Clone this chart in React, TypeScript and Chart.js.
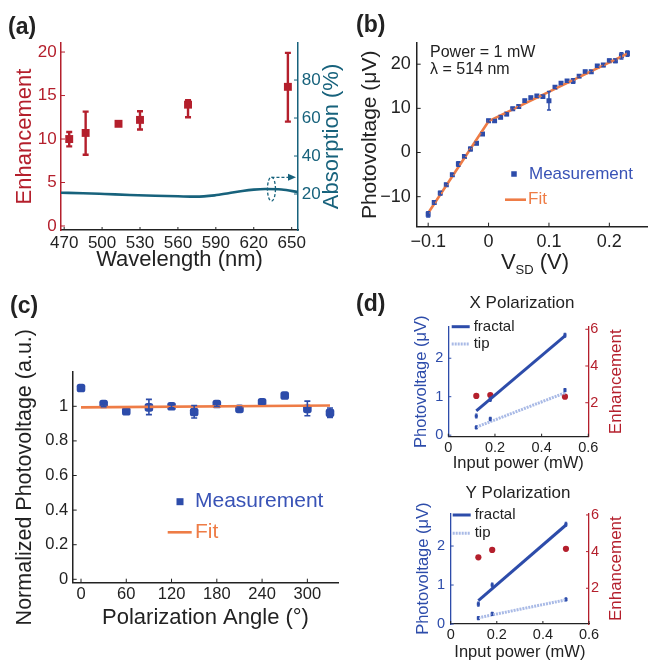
import React, { useEffect, useRef } from 'react';
import { Chart, registerables } from 'chart.js';
Chart.register(...registerables);

const W = 648;
const H = 660;
const FF = '"Liberation Sans", Arial, Helvetica, sans-serif';

const RED = '#b41f2c';
const TEAL = '#17627c';
const BLUE = '#2d4caa';
const BLUE_TXT = '#3953b6';
const ORANGE = '#ee7c46';
const TIP = '#a9bae6';
const INK = '#222222';

// ---------- (a) ----------
const wavelengthNm = [474, 487, 513, 530, 568, 647];
const enhancementA = [10.0, 10.7, 11.75, 12.2, 13.95, 16.0];
const enhancementLow = [9.15, 8.2, 11.55, 11.1, 12.5, 12.0];
const enhancementHigh = [10.8, 13.15, 11.95, 13.2, 14.45, 19.9];
const absorptionWl = [467.5, 485, 502, 522, 542, 560, 574, 589, 600, 611, 620, 629, 642, 655];
const absorptionPct = [20.7, 20.4, 20.0, 19.5, 19.1, 18.8, 18.6, 19.3, 20.4, 21.6, 22.3, 22.6, 22.4, 21.0];
const xTicksA = [470, 500, 530, 560, 590, 620, 650];
const yTicksA = [0, 5, 10, 15, 20];
const y2TicksA = [20, 40, 60, 80];

// ---------- (b) ----------
const vsdV = [-0.1, -0.09, -0.08, -0.07, -0.06, -0.05, -0.04, -0.03, -0.02, -0.01, 0, 0.01, 0.02, 0.03, 0.04, 0.05, 0.06,
  0.07, 0.08, 0.09, 0.1, 0.11, 0.12, 0.13, 0.14, 0.15, 0.16, 0.17, 0.18, 0.19, 0.2, 0.21, 0.22, 0.23];
const photoVoltage = [-14.0, -11.3, -9.2, -7.3, -5.05, -2.6, -0.9, 0.8, 2.1, 4.2, 7.2, 7.2, 8.0, 8.7, 9.9, 10.4, 11.7,
  12.4, 12.8, 12.7, 11.7, 14.8, 15.7, 16.2, 16.2, 17.3, 18.3, 18.3, 19.6, 19.8, 20.8, 20.8, 21.9, 22.4];
const photoVoltageErr = [0.6, 0.4, 0.4, 0.3, 0.3, 0.5, 0.3, 0.4, 0.3, 0.3, 0.3, 0.3, 0.3, 0.3, 0.3, 0.3, 0.3,
  0.3, 0.3, 0.3, 2.1, 0.3, 0.3, 0.3, 0.5, 0.3, 0.3, 0.3, 0.3, 0.3, 0.3, 0.4, 0.7, 0.6];
const fitVsd = [-0.1, 0, 0.23];
const fitPhotoVoltage = [-13.7, 7.1, 22.4];
const xTicksB = [-0.1, 0, 0.1, 0.2];
const yTicksB = [-10, 0, 10, 20];

// ---------- (c) ----------
const angleDeg = [0, 30, 60, 90, 120, 150, 180, 210, 240, 270, 300, 330];
const normPhotoV = [1.106, 1.013, 0.971, 0.994, 1.0, 0.967, 1.013, 0.985, 1.023, 1.062, 0.985, 0.962];
const normLow = [1.094, 0.998, 0.961, 0.952, 0.992, 0.932, 1.0, 0.974, 1.012, 1.052, 0.945, 0.935];
const normHigh = [1.118, 1.027, 0.981, 1.04, 1.008, 1.005, 1.027, 0.996, 1.034, 1.072, 1.03, 0.99];
const fitAngle = [0, 330];
const fitNorm = [0.994, 1.005];
const xTicksC = [0, 60, 120, 180, 240, 300];
const yTicksC = [0, 0.2, 0.4, 0.6, 0.8, 1];

// ---------- (d) ----------
const inputPowerMw = [0.12, 0.18, 0.5];
const fitPowerMw = [0.12, 0.5];
const xFractal = [0.5, 0.93, 2.6];
const xTip = [0.2, 0.42, 1.17];
const xFractalFit = [0.63, 2.58];
const xTipFit = [0.21, 1.1];
const xEnhancement = [2.37, 2.42, 2.33];
const yFractal = [0.51, 1.0, 2.56];
const yTip = [0.15, 0.26, 0.63];
const yFractalFit = [0.6, 2.54];
const yTipFit = [0.16, 0.62];
const yEnhancement = [3.69, 4.09, 4.15];
const xTicksD = [0, 0.2, 0.4, 0.6];
const yTicksD = [0, 1, 2];
const y2TicksD = [2, 4, 6];

// ---------- helpers ----------
const LH = 0.8;
type Area = { l: number; t: number; r: number; b: number };
function frame(a: Area, yTitleCx: number, yFs: number, xTitleCy: number, xFs: number, rightW: number) {
  const padL = yTitleCx - (LH * yFs) / 2;
  const padB = H - xTitleCy - (LH * xFs) / 2;
  return {
    padding: { left: padL, top: a.t, right: W - a.r - rightW, bottom: padB },
    yWidth: a.l - padL,
    xHeight: H - padB - a.b,
    rightW,
  };
}

const fmtMinus = (v: number) => (v < 0 ? '\u2212' + String(Math.abs(v)) : String(v));

function axis(o: {
  pos: string; min: number; max: number; ticks: number[]; color: string; tickColor: string; fs: number; pad: number;
  size: number; title?: string; titleFs?: number; titleColor?: string; fmt?: (v: number) => string; bw?: number;
}) {
  const horiz = o.pos === 'bottom' || o.pos === 'top';
  return {
    type: 'linear',
    position: o.pos,
    min: o.min,
    max: o.max,
    afterBuildTicks: (s: any) => { s.ticks = o.ticks.map((v) => ({ value: v })); },
    afterFit: (s: any) => { if (horiz) s.height = o.size; else s.width = o.size; },
    grid: { display: true, drawOnChartArea: false, drawTicks: false },
    border: { display: true, color: o.color, width: o.bw ?? 1.5 },
    ticks: {
      color: o.tickColor,
      font: { family: FF, size: o.fs },
      padding: o.pad,
      autoSkip: false,
      maxRotation: 0,
      callback: (v: any) => (o.fmt ? o.fmt(Number(v)) : String(v)),
    },
    title: {
      display: !!o.title,
      text: o.title || '',
      color: o.titleColor || INK,
      font: { family: FF, size: o.titleFs || 16, lineHeight: LH },
      padding: 0,
    },
  };
}

type ErrSpec = { ds: number; axis: string; low: number[]; high: number[]; color: string; cap: number; width: number };
const errorBars = (specs: ErrSpec[]) => ({
  id: 'errorBars',
  afterDatasetsDraw(chart: any) {
    const ctx = chart.ctx;
    ctx.save();
    for (const s of specs) {
      const meta = chart.getDatasetMeta(s.ds);
      const sc = chart.scales[s.axis];
      meta.data.forEach((pt: any, i: number) => {
        const x = pt.x;
        const y1 = sc.getPixelForValue(s.low[i]);
        const y2 = sc.getPixelForValue(s.high[i]);
        ctx.strokeStyle = s.color;
        ctx.lineWidth = s.width;
        ctx.beginPath();
        ctx.moveTo(x, y1); ctx.lineTo(x, y2);
        ctx.moveTo(x - s.cap, y1); ctx.lineTo(x + s.cap, y1);
        ctx.moveTo(x - s.cap, y2); ctx.lineTo(x + s.cap, y2);
        ctx.stroke();
      });
    }
    ctx.restore();
  },
});

type TickSpec = { id: string; color: string; len: number };
const innerTicks = (specs: TickSpec[]) => ({
  id: 'innerTicks',
  afterDraw(chart: any) {
    const { ctx, chartArea: a } = chart;
    ctx.save();
    for (const t of specs) {
      const sc = chart.scales[t.id];
      ctx.strokeStyle = t.color;
      ctx.lineWidth = 1;
      ctx.beginPath();
      for (const tk of sc.ticks) {
        const p = sc.getPixelForValue(tk.value);
        if (sc.isHorizontal()) { ctx.moveTo(p, a.bottom); ctx.lineTo(p, a.bottom - t.len); }
        else if (sc.options.position === 'left') { ctx.moveTo(a.left, p); ctx.lineTo(a.left + t.len, p); }
        else { ctx.moveTo(a.right, p); ctx.lineTo(a.right - t.len, p); }
      }
      ctx.stroke();
    }
    ctx.restore();
  },
});

type TextItem = { text: string; x: number; y: number; size: number; color: string; bold?: boolean; align?: CanvasTextAlign; rot?: number };
const texts = (items: TextItem[]) => ({
  id: 'texts',
  afterDraw(chart: any) {
    const ctx = chart.ctx;
    for (const it of items) {
      ctx.save();
      ctx.translate(it.x, it.y);
      if (it.rot) ctx.rotate(it.rot);
      ctx.font = `${it.bold ? 'bold ' : ''}${it.size}px ${FF}`;
      ctx.fillStyle = it.color;
      ctx.textAlign = it.align || 'left';
      ctx.textBaseline = 'middle';
      ctx.fillText(it.text, 0, 0);
      ctx.restore();
    }
  },
});

type KeyItem = { kind: 'rect' | 'line' | 'dots'; x: number; y: number; w: number; color: string; lw?: number };
const legendKeys = (items: KeyItem[]) => ({
  id: 'legendKeys',
  afterDraw(chart: any) {
    const ctx = chart.ctx;
    ctx.save();
    for (const k of items) {
      if (k.kind === 'rect') {
        ctx.fillStyle = k.color;
        ctx.fillRect(k.x - k.w / 2, k.y - k.w / 2, k.w, k.w);
      } else {
        ctx.strokeStyle = k.color;
        ctx.lineWidth = k.lw || 2.5;
        ctx.setLineDash(k.kind === 'dots' ? [2, 1] : []);
        ctx.beginPath();
        ctx.moveTo(k.x, k.y);
        ctx.lineTo(k.x + k.w, k.y);
        ctx.stroke();
      }
    }
    ctx.restore();
  },
});

const pts = (xs: number[], ys: number[]) => xs.map((x, i) => ({ x, y: ys[i] }));

function baseOptions(fr: ReturnType<typeof frame>, scales: any) {
  return {
    responsive: false,
    animation: false,
    devicePixelRatio: 1,
    events: [],
    layout: { padding: fr.padding, autoPadding: false },
    plugins: { legend: { display: false }, tooltip: { enabled: false }, title: { display: false } },
    scales,
  };
}

// ---------- chart builders ----------
function chartA(canvas: HTMLCanvasElement) {
  const area = { l: 61, t: 43, r: 298, b: 230 };
  const fr = frame(area, 24.5, 22, 260, 22, 30);
  const ellipseDeco = {
    id: 'absMarker',
    afterDatasetsDraw(chart: any) {
      const { ctx, scales } = chart;
      const cx = scales.x.getPixelForValue(634);
      const cy = scales.y2.getPixelForValue(22.6);
      const ay = scales.y2.getPixelForValue(28.8);
      const ex = chart.chartArea.right - 2;
      ctx.save();
      ctx.strokeStyle = TEAL;
      ctx.fillStyle = TEAL;
      ctx.lineWidth = 1.3;
      ctx.setLineDash([3, 2]);
      ctx.beginPath();
      ctx.ellipse(cx, cy, 4, 12, 0, 0, Math.PI * 2);
      ctx.stroke();
      ctx.beginPath();
      ctx.moveTo(cx, ay);
      ctx.lineTo(ex - 7, ay);
      ctx.stroke();
      ctx.setLineDash([]);
      ctx.beginPath();
      ctx.moveTo(ex, ay);
      ctx.lineTo(ex - 8, ay - 3.5);
      ctx.lineTo(ex - 8, ay + 3.5);
      ctx.closePath();
      ctx.fill();
      ctx.restore();
    },
  };
  return new Chart(canvas, {
    type: 'scatter',
    data: {
      datasets: [
        {
          data: pts(wavelengthNm, enhancementA), yAxisID: 'y', pointStyle: 'rect', pointRadius: 5.6,
          backgroundColor: RED, borderColor: RED, borderWidth: 0,
        },
        {
          data: pts(absorptionWl, absorptionPct), yAxisID: 'y2', showLine: true, pointRadius: 0,
          borderColor: TEAL, borderWidth: 2.6, cubicInterpolationMode: 'monotone', fill: false,
        },
      ],
    } as any,
    options: baseOptions(fr, {
      x: axis({ pos: 'bottom', min: 467.5, max: 655, ticks: xTicksA, color: INK, tickColor: INK, fs: 17, pad: 2.8, size: fr.xHeight, title: 'Wavelength (nm)', titleFs: 22 }),
      y: axis({ pos: 'left', min: -0.46, max: 21.04, ticks: yTicksA, color: RED, tickColor: RED, fs: 17, pad: 4.3, size: fr.yWidth, title: 'Enhancement', titleFs: 22, titleColor: RED }),
      y2: axis({ pos: 'right', min: 1.05, max: 99.5, ticks: y2TicksA, color: TEAL, tickColor: TEAL, fs: 17, pad: 3.7, size: fr.rightW }),
    }) as any,
    plugins: [
      errorBars([{ ds: 0, axis: 'y', low: enhancementLow, high: enhancementHigh, color: RED, cap: 3, width: 2.4 }]),
      ellipseDeco,
      innerTicks([{ id: 'y', color: RED, len: 4 }, { id: 'y2', color: TEAL, len: 4 }, { id: 'x', color: INK, len: 3 }]),
      texts([
        { text: '(a)', x: 8, y: 28, size: 23, color: INK, bold: true },
        { text: 'Absorption (%)', x: 332, y: (area.t + area.b) / 2, size: 22, color: TEAL, align: 'center', rot: -Math.PI / 2 },
      ]),
    ],
  });
}

function chartB(canvas: HTMLCanvasElement) {
  const area = { l: 416.7, t: 43, r: 648, b: 226.7 };
  const fr = frame(area, 370.3, 21, 262, 22, 0);
  const subTitle = {
    id: 'vsdTitle',
    afterDraw(chart: any) {
      const ctx = chart.ctx;
      ctx.save();
      ctx.fillStyle = INK;
      ctx.textBaseline = 'alphabetic';
      ctx.font = `22px ${FF}`;
      const wV = ctx.measureText('V').width;
      const wP = ctx.measureText(' (V)').width;
      ctx.font = `13px ${FF}`;
      const wS = ctx.measureText('SD').width;
      const total = wV + wS + wP;
      let x = 535 - total / 2;
      const base = 268.5;
      ctx.font = `22px ${FF}`;
      ctx.fillText('V', x, base);
      x += wV;
      ctx.font = `13px ${FF}`;
      ctx.fillText('SD', x, base + 5);
      x += wS;
      ctx.font = `22px ${FF}`;
      ctx.fillText(' (V)', x, base);
      ctx.restore();
    },
  };
  return new Chart(canvas, {
    type: 'scatter',
    data: {
      datasets: [
        {
          data: pts(fitVsd, fitPhotoVoltage), showLine: true, pointRadius: 0, borderColor: ORANGE, borderWidth: 2.6, fill: false,
        },
        {
          data: pts(vsdV, photoVoltage), pointStyle: 'rect', pointRadius: 3.5, backgroundColor: BLUE, borderColor: BLUE, borderWidth: 0,
        },
      ],
    } as any,
    options: baseOptions(fr, {
      x: axis({ pos: 'bottom', min: -0.119, max: 0.264, ticks: xTicksB, color: INK, tickColor: INK, fs: 18, pad: 4.2, size: fr.xHeight, fmt: fmtMinus }),
      y: axis({ pos: 'left', min: -16.8, max: 24.8, ticks: yTicksB, color: INK, tickColor: INK, fs: 18, pad: 6, size: fr.yWidth, title: 'Photovoltage (\u03bcV)', titleFs: 21, fmt: fmtMinus }),
    }) as any,
    plugins: [
      errorBars([{
        ds: 1, axis: 'y', low: photoVoltage.map((v, i) => v - photoVoltageErr[i]),
        high: photoVoltage.map((v, i) => v + photoVoltageErr[i]), color: BLUE, cap: 2, width: 1.5,
      }]),
      innerTicks([{ id: 'y', color: INK, len: 4 }, { id: 'x', color: INK, len: 4 }]),
      subTitle,
      legendKeys([
        { kind: 'rect', x: 514, y: 174, w: 5.5, color: BLUE },
        { kind: 'line', x: 505, y: 199.7, w: 21, color: ORANGE, lw: 2.6 },
      ]),
      texts([
        { text: '(b)', x: 356, y: 26, size: 23, color: INK, bold: true },
        { text: 'Power = 1 mW', x: 430, y: 53, size: 16, color: INK },
        { text: '\u03bb = 514 nm', x: 430, y: 69.5, size: 16, color: INK },
        { text: 'Measurement', x: 529, y: 174, size: 17, color: BLUE_TXT },
        { text: 'Fit', x: 528, y: 199.7, size: 17, color: ORANGE },
      ]),
    ],
  });
}

function chartC(canvas: HTMLCanvasElement) {
  const area = { l: 72.7, t: 371.7, r: 338.3, b: 582.7 };
  const fr = frame(area, 25, 21.5, 618.3, 22, 0);
  return new Chart(canvas, {
    type: 'scatter',
    data: {
      datasets: [
        {
          data: pts(fitAngle, fitNorm), showLine: true, pointRadius: 0, borderColor: ORANGE, borderWidth: 2.6, fill: false,
        },
        {
          data: pts(angleDeg, normPhotoV), pointStyle: 'rectRounded', pointRadius: 5, backgroundColor: BLUE, borderColor: BLUE, borderWidth: 0,
        },
      ],
    } as any,
    options: baseOptions(fr, {
      x: axis({ pos: 'bottom', min: -11, max: 341, ticks: xTicksC, color: INK, tickColor: INK, fs: 16.5, pad: 1.7, size: fr.xHeight, title: 'Polarization Angle (\u00b0)', titleFs: 22 }),
      y: axis({ pos: 'left', min: -0.0196, max: 1.2, ticks: yTicksC, color: INK, tickColor: INK, fs: 16.5, pad: 4.4, size: fr.yWidth, title: 'Normalized Photovoltage (a.u.)', titleFs: 21.5 }),
    }) as any,
    plugins: [
      errorBars([{ ds: 1, axis: 'y', low: normLow, high: normHigh, color: BLUE, cap: 3, width: 1.6 }]),
      innerTicks([{ id: 'y', color: INK, len: 4 }, { id: 'x', color: INK, len: 4 }]),
      legendKeys([
        { kind: 'rect', x: 180, y: 501.7, w: 7, color: BLUE },
        { kind: 'line', x: 167.7, y: 532.3, w: 24, color: ORANGE, lw: 2.6 },
      ]),
      texts([
        { text: '(c)', x: 10, y: 307, size: 23, color: INK, bold: true },
        { text: 'Measurement', x: 195, y: 501.7, size: 21, color: BLUE_TXT },
        { text: 'Fit', x: 195, y: 532.3, size: 21, color: ORANGE },
      ]),
    ],
  });
}

function chartD(canvas: HTMLCanvasElement, which: 'X' | 'Y') {
  const isX = which === 'X';
  const area = isX ? { l: 448.3, t: 326.7, r: 588.3, b: 436.7 } : { l: 450.7, t: 513.3, r: 589, b: 624 };
  const fr = frame(area, isX ? 421.7 : 423.3, 16.5, isX ? 463.3 : 652.7, 16.5, 25);
  const fr1 = isX ? xFractal : yFractal;
  const tp = isX ? xTip : yTip;
  const fr1Fit = isX ? xFractalFit : yFractalFit;
  const tpFit = isX ? xTipFit : yTipFit;
  const enh = isX ? xEnhancement : yEnhancement;
  const legY1 = isX ? 326.7 : 515;
  const legY2 = isX ? 344 : 533.3;
  const legX = isX ? 451.7 : 452.7;
  return new Chart(canvas, {
    type: 'scatter',
    data: {
      datasets: [
        { data: pts(fitPowerMw, tpFit), yAxisID: 'y', showLine: true, pointRadius: 0, borderColor: TIP, borderWidth: 3, borderDash: [2, 1], fill: false },
        { data: pts(fitPowerMw, fr1Fit), yAxisID: 'y', showLine: true, pointRadius: 0, borderColor: BLUE, borderWidth: 3, fill: false },
        { data: pts(inputPowerMw, fr1), yAxisID: 'y', pointStyle: 'rect', pointRadius: 2.2, backgroundColor: BLUE, borderWidth: 0 },
        { data: pts(inputPowerMw, tp), yAxisID: 'y', pointStyle: 'rect', pointRadius: 2.2, backgroundColor: BLUE, borderWidth: 0 },
        { data: pts(inputPowerMw, enh), yAxisID: 'y2', pointStyle: 'circle', pointRadius: 3.1, backgroundColor: RED, borderWidth: 0 },
      ],
    } as any,
    options: baseOptions(fr, {
      x: axis({ pos: 'bottom', min: 0, max: 0.6, ticks: xTicksD, color: INK, tickColor: INK, fs: 14.5, pad: isX ? 2.6 : 2, size: fr.xHeight, title: 'Input power (mW)', titleFs: 16.5, bw: 1.3 }),
      y: axis({ pos: 'left', min: isX ? -0.04 : 0, max: isX ? 2.82 : 2.84, ticks: yTicksD, color: BLUE, tickColor: BLUE, fs: 14.5, pad: isX ? 5 : 5.7, size: fr.yWidth, title: 'Photovoltage (\u03bcV)', titleFs: 16.5, titleColor: BLUE, bw: 1.3 }),
      y2: axis({ pos: 'right', min: isX ? 0.15 : 0.05, max: isX ? 6.14 : 6.09, ticks: y2TicksD, color: RED, tickColor: RED, fs: 14.5, pad: 2, size: fr.rightW, bw: 1.3 }),
    }) as any,
    plugins: [
      errorBars([
        { ds: 2, axis: 'y', low: fr1.map((v) => v - 0.05), high: fr1.map((v) => v + 0.05), color: BLUE, cap: 1.2, width: 1.2 },
        { ds: 3, axis: 'y', low: tp.map((v) => v - 0.04), high: tp.map((v) => v + 0.04), color: BLUE, cap: 1.2, width: 1.2 },
      ]),
      innerTicks([{ id: 'y', color: BLUE, len: 3 }, { id: 'y2', color: RED, len: 3 }, { id: 'x', color: INK, len: 3 }]),
      legendKeys([
        { kind: 'line', x: legX, y: legY1, w: 18, color: BLUE, lw: 3 },
        { kind: 'dots', x: legX, y: legY2, w: 18, color: TIP, lw: 3 },
      ]),
      texts([
        ...(isX ? [{ text: '(d)', x: 356, y: 305, size: 23, color: INK, bold: true }] : []),
        { text: isX ? 'X Polarization' : 'Y Polarization', x: isX ? 522 : 518, y: isX ? 303 : 493.3, size: 17, color: INK, align: 'center' as CanvasTextAlign },
        { text: 'fractal', x: legX + 22, y: legY1, size: 15, color: INK },
        { text: 'tip', x: legX + 22, y: legY2, size: 15, color: INK },
        { text: 'Enhancement', x: isX ? 616.7 : 616, y: (area.t + area.b) / 2, size: 17, color: RED, align: 'center' as CanvasTextAlign, rot: -Math.PI / 2 },
      ]),
    ],
  });
}

export default function App() {
  const refs = [useRef<HTMLCanvasElement>(null), useRef<HTMLCanvasElement>(null), useRef<HTMLCanvasElement>(null),
    useRef<HTMLCanvasElement>(null), useRef<HTMLCanvasElement>(null)];
  useEffect(() => {
    const cs = refs.map((r) => r.current as HTMLCanvasElement);
    const charts = [chartA(cs[0]), chartB(cs[1]), chartC(cs[2]), chartD(cs[3], 'X'), chartD(cs[4], 'Y')];
    return () => charts.forEach((c) => c.destroy());
  }, []);
  return (
    <div style={{ position: 'fixed', left: 0, top: 0, width: W, height: H, background: '#ffffff', overflow: 'hidden' }}>
      {refs.map((r, i) => (
        <canvas key={i} ref={r} width={W} height={H}
          style={{ position: 'absolute', left: 0, top: 0, width: W, height: H, pointerEvents: 'none' }} />
      ))}
    </div>
  );
}
